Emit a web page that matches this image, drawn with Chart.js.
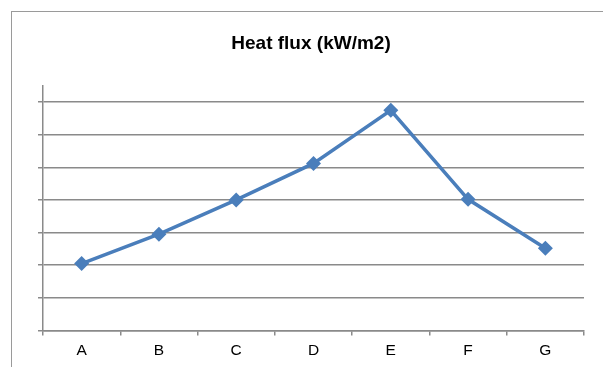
<!DOCTYPE html>
<html>
<head>
<meta charset="utf-8">
<script src="https://cdn.jsdelivr.net/npm/chart.js@4"></script>
<style>
  html, body { margin: 0; padding: 0; background: #fff; overflow: hidden; }
  #wrap { position: relative; width: 603px; height: 367px; }
  #frame {
    position: absolute; left: 11px; top: 11px; width: 700px; height: 400px;
    border-left: 1px solid #9a9a9a; border-top: 1px solid #9a9a9a;
    pointer-events: none;
  }
</style>
</head>
<body>
<div id="wrap">
  <canvas id="chart" width="603" height="367"></canvas>
  <div id="frame"></div>
</div>
<script>
const categories = ["A", "B", "C", "D", "E", "F", "G"];
const heatFlux = [2.05, 2.95, 4.0, 5.12, 6.75, 4.02, 2.52];
const titleText = "Heat flux (kW/m2)";

const gridColor = "#8a8a8a";

new Chart(document.getElementById("chart"), {
  type: "line",
  data: {
    labels: categories,
    datasets: [
      {
        data: heatFlux,
        borderColor: "#4a7ebb",
        backgroundColor: "#4a7ebb",
        borderWidth: 3.5,
        pointStyle: "rectRot",
        pointRadius: 7.5,
        pointBorderWidth: 0,
        tension: 0,
      },
    ],
  },
  options: {
    responsive: false,
    animation: false,
    layout: { padding: { left: 38, right: 19, top: 0, bottom: 1 } },
    plugins: {
      legend: { display: false },
      tooltip: { enabled: false },
      title: {
        display: true,
        text: titleText,
        color: "#000",
        font: { family: "Liberation Sans, Arial, sans-serif", size: 19, weight: "bold" },
        padding: { top: 32, bottom: 31 },
      },
    },
    scales: {
      x: {
        offset: true,
        border: { display: true, color: gridColor, width: 1.5 },
        grid: {
          offset: true,
          drawOnChartArea: false,
          drawTicks: true,
          tickLength: 5,
          color: gridColor,
          lineWidth: 1.5,
        },
        ticks: {
          color: "#000",
          padding: 6,
          font: { family: "Liberation Sans, Arial, sans-serif", size: 15.5 },
        },
      },
      y: {
        min: 0,
        max: 7.5,
        afterBuildTicks: (axis) => {
          axis.ticks = axis.ticks.filter((t) => t.value <= 7);
        },
        border: { display: true, color: gridColor, width: 1.5 },
        grid: {
          color: gridColor,
          lineWidth: 1.5,
          drawTicks: true,
          tickLength: 5,
        },
        ticks: { display: false, stepSize: 1 },
      },
    },
  },
});
</script>
</body>
</html>
